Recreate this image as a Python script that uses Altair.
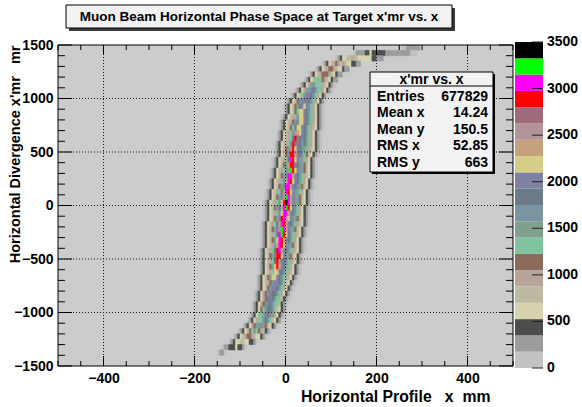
import altair as alt
import pandas as pd

# ---------------- data ----------------
# 2-D histogram: one string per 50 mr row of x'; first char = 5 mm bin starting at ROW_X0
# each char is the colour level of that bin (0..19 -> "0".."9","a".."j")
ROW_Y = [1475, 1425, 1375, 1325, 1275, 1225, 1175, 1125, 1075, 1025, 975, 925, 875, 825,
         775, 725, 675, 625, 575, 525, 475, 425, 375, 325, 275, 225, 175, 125, 75, 25,
         -25, -75, -125, -175, -225, -275, -325, -375, -425, -475, -525, -575, -625, -675,
         -725, -775, -825, -875, -925, -975, -1025, -1075, -1125, -1175, -1225, -1275,
         -1325, -1375]
ROW_X0 = [255, 150, 110, 80, 65, 50, 40, 30, 20, 10, 0, -5, -5, -10,
          -15, -15, -20, -20, -25, -25, -25, -30, -30, -35, -35, -40, -40, -45, -45, -50,
          -50, -50, -50, -55, -55, -55, -55, -55, -60, -60, -60, -60, -60, -65,
          -65, -65, -70, -70, -75, -75, -80, -85, -95, -105, -115, -125,
          -140, -150]
ROW_LEVELS = [
    "00111111",
    "0111122322222211111111111000",
    "012334454433333322111",
    "01234565454332211",
    "012345665433211",
    "012345666543211",
    "012347776543211",
    "0123589777543210",
    "0123589ba97753210",
    "0123479bba9753210",
    "0123469bbba9753210",
    "0123468abcb9753210",
    "0123467ccba9753210",
    "01234579ccba8753210",
    "01234569bccba8753210",
    "0123467accba97543210",
    "01234579edcba9753210",
    "0123457agbaba8753210",
    "01234579gfba9a8753210",
    "0123468egcba987543210",
    "0123469ggdba97643210",
    "0123457ahgcb98753210",
    "0123468dggba98643210",
    "01234579eigcb98643210",
    "0123468bhhdba97543210",
    "01234579dhgcba8753210",
    "0123468bhhdba98643210",
    "0123457adhgcb98753210",
    "0123468beihdb98643210",
    "01234579cgjhdb98643210",
    "0123468adhigca9753210",
    "01234579chhdba8753210",
    "0123468bghecb98643210",
    "0123457adhgdba97543210",
    "0123468beihdb98643210",
    "0123457ahigca97543210",
    "0123468chgdba8753210",
    "0123458dhgcb98643210",
    "0123457aghdba97543210",
    "0123468bggcb98643210",
    "0123457ageba97543210",
    "0123468cgdba8753210",
    "0123457ccba97543210",
    "0123468ccba97543210",
    "01234569bba9743210",
    "0123469bba9753210",
    "0123569baa9753210",
    "012356aba9774210",
    "0123569ba9774210",
    "0123679aa974321",
    "0123778ba9853210",
    "01235779a9743210",
    "0123568998643210",
    "012346787654210",
    "012345665433210",
    "0123344332210",
    "01122232210",
    "0110",
]

LEVEL_CHARS = "0123456789abcdefghij"
BIN_X, BIN_Y = 5, 50
Z_MAX, N_LEVELS = 3500, 20
STEP = Z_MAX / N_LEVELS

PALETTE = ["#c2c2c2", "#9c9c9c", "#4d4d4d", "#d6d2ae", "#bdb9a2", "#b9a49c", "#8d6b5c",
           "#7fc3a1", "#80a08e", "#7a95a1", "#6c7b89", "#7e81a4", "#d6ce86", "#c5a17e",
           "#b49299", "#9f6b7a", "#ff0000", "#ff00ff", "#00ff00", "#000000"]

X_MAJOR = [-400, -200, 0, 200, 400]
X_MINOR = [-500, -450, -350, -300, -250, -150, -100, -50, 50, 100, 150, 250, 300, 350, 450, 500]
X_GRID = [-400, -200, 0, 200, 400]
Y_MAJOR = [-1500, -1000, -500, 0, 500, 1000, 1500]
Y_MINOR = [-1400, -1300, -1200, -1100, -900, -800, -700, -600, -400, -300, -200, -100,
           100, 200, 300, 400, 600, 700, 800, 900, 1100, 1200, 1300, 1400]
Y_GRID = [-1000, -500, 0, 500, 1000]
Z_TICKS = [0, 500, 1000, 1500, 2000, 2500, 3000, 3500]

NB = "\u00a0"
TITLE = "Muon Beam Horizontal Phase Space at Target x'mr vs. x"
X_TITLE = "Horizontal Profile" + NB * 3 + "x" + NB * 2 + "mm"
Y_TITLE = "Horizontal Divergence x'mr" + NB * 3 + "mr"
STAT_NAME = "x'mr vs. x"
STAT_LABELS = ["Entries", "Mean x", "Mean y", "RMS x", "RMS y"]
STAT_VALUES = ["677829", "14.24", "150.5", "52.85", "663"]

# ---------------- tables ----------------
cells = []
for yc, x0, s in zip(ROW_Y, ROW_X0, ROW_LEVELS):
    for i, ch in enumerate(s):
        lv = LEVEL_CHARS.index(ch)
        cells.append({"x": x0 + i * BIN_X, "x2": x0 + (i + 1) * BIN_X,
                      "y": yc - BIN_Y / 2, "y2": yc + BIN_Y / 2,
                      "z": (lv + 0.5) * STEP})
cells = pd.DataFrame(cells)
bar = pd.DataFrame({"lo": [k * STEP for k in range(N_LEVELS)],
                    "hi": [(k + 1) * STEP for k in range(N_LEVELS)],
                    "z": [(k + 0.5) * STEP for k in range(N_LEVELS)]})
one = pd.DataFrame({"a": [0]})

W, H = 455, 321
FONT = "Liberation Sans"
xs = alt.Scale(domain=[-500, 500], nice=False, zero=False)
ys = alt.Scale(domain=[-1500, 1500], nice=False, zero=False)
zs = alt.Scale(domain=[0, Z_MAX], nice=False, zero=False, range=[323, -3])
cs = alt.Scale(type="threshold", domain=[STEP * k for k in range(1, N_LEVELS)], range=PALETTE)

x_axis = alt.Axis(values=X_MAJOR, format="d", ticks=False, domain=False, grid=False,
                  labelFont=FONT, labelFontWeight="bold", labelFontSize=14, labelColor="black",
                  labelPadding=5, title=X_TITLE, titleFont=FONT, titleFontWeight="bold",
                  titleFontSize=15.8, titleColor="black", titleAlign="right",
                  titleBaseline="middle", titleX=432, titleY=30)
y_axis = alt.Axis(values=Y_MAJOR, format="d", ticks=False, domain=False, grid=False,
                  labelFont=FONT, labelFontWeight="bold", labelFontSize=14, labelColor="black",
                  labelPadding=5, title=Y_TITLE, titleFont=FONT, titleFontWeight="bold",
                  titleFontSize=14.5, titleColor="black", titleAngle=270, titleAlign="right",
                  titleBaseline="middle", titleX=-43, titleY=0)

heat = alt.Chart(cells).mark_rect(strokeWidth=0.5).encode(
    x=alt.X("x:Q", scale=xs, axis=x_axis), x2="x2:Q",
    y=alt.Y("y:Q", scale=ys, axis=y_axis), y2="y2:Q",
    color=alt.Color("z:Q", scale=cs, legend=None),
    stroke=alt.Stroke("z:Q", scale=cs, legend=None))

def vrules(vals, y0, y1, **kw):
    return alt.Chart(pd.DataFrame({"v": vals})).mark_rule(**kw).encode(
        x=alt.X("v:Q", scale=xs, axis=x_axis), y=alt.value(y0), y2=alt.value(y1))

def hrules(vals, x0, x1, **kw):
    return alt.Chart(pd.DataFrame({"v": vals})).mark_rule(**kw).encode(
        y=alt.Y("v:Q", scale=ys, axis=y_axis), x=alt.value(x0), x2=alt.value(x1))

grid_kw = dict(color="#1a1a1a", strokeWidth=1, strokeDash=[1, 2])
tick_kw = dict(color="black", strokeWidth=1)
layers = [heat,
          vrules(X_GRID, 0, H, **grid_kw), hrules(Y_GRID, 0, W, **grid_kw),
          vrules(X_MAJOR, H, H - 10, **tick_kw), vrules(X_MINOR, H, H - 5, **tick_kw),
          vrules(X_MAJOR, 0, 10, **tick_kw), vrules(X_MINOR, 0, 5, **tick_kw),
          hrules(Y_MAJOR, 0, 14, **tick_kw), hrules(Y_MINOR, 0, 7, **tick_kw),
          hrules(Y_MAJOR, W, W - 14, **tick_kw), hrules(Y_MINOR, W, W - 7, **tick_kw),
          alt.Chart(one).mark_rect(fillOpacity=0, stroke="black", strokeWidth=1).encode(
              x=alt.value(0), x2=alt.value(W), y=alt.value(0), y2=alt.value(H))]
main = alt.layer(*layers)

# colour bar (palette axis)
cb_rect = alt.Chart(bar).mark_rect().encode(
    y=alt.Y("lo:Q", scale=zs, axis=None), y2="hi:Q",
    x=alt.value(457), x2=alt.value(485),
    color=alt.Color("z:Q", scale=cs, legend=None))
zt = pd.DataFrame({"t": Z_TICKS})
cb_tick = alt.Chart(zt).mark_rule(color="#222222").encode(
    y=alt.Y("t:Q", scale=zs, axis=None), x=alt.value(474), x2=alt.value(485))
cb_lab = alt.Chart(zt).mark_text(align="left", baseline="middle", font=FONT,
                                 fontWeight="bold", fontSize=14, color="black").encode(
    y=alt.Y("t:Q", scale=zs, axis=None), x=alt.value(489), text=alt.Text("t:Q", format="d"))
cbar = alt.layer(cb_rect, cb_tick, cb_lab)

# title box
t_shadow = alt.Chart(one).mark_rect(color="#3a3a3a").encode(
    x=alt.value(11), x2=alt.value(397), y=alt.value(-37), y2=alt.value(-14))
t_box = alt.Chart(one).mark_rect(fill="#f2f2f2", stroke="black", strokeWidth=1).encode(
    x=alt.value(8), x2=alt.value(394), y=alt.value(-40), y2=alt.value(-17))
t_text = alt.Chart(one).mark_text(text=TITLE, font=FONT, fontWeight="bold", fontSize=13.5,
                                  color="black", align="center", baseline="middle").encode(
    x=alt.value(201), y=alt.value(-28.5))

# statistics box
s_shadow = alt.Chart(one).mark_rect(color="black").encode(
    x=alt.value(314), x2=alt.value(437), y=alt.value(29), y2=alt.value(129))
s_box = alt.Chart(one).mark_rect(fill="#f2f2f2", stroke="black", strokeWidth=1).encode(
    x=alt.value(312), x2=alt.value(435), y=alt.value(27), y2=alt.value(127))
s_line = alt.Chart(one).mark_rule(color="black").encode(
    x=alt.value(312), x2=alt.value(435), y=alt.value(41))
s_head = alt.Chart(one).mark_text(text=STAT_NAME, font=FONT, fontWeight="bold", fontSize=14,
                                  color="black", align="center", baseline="middle").encode(
    x=alt.value(373.5), y=alt.value(35))
s_lab = alt.Chart(one).mark_text(text=STAT_LABELS, font=FONT, fontWeight="bold", fontSize=14,
                                 lineHeight=16.4, color="black", align="left",
                                 baseline="top").encode(x=alt.value(319), y=alt.value(45))
s_val = alt.Chart(one).mark_text(text=STAT_VALUES, font=FONT, fontWeight="bold", fontSize=14,
                                 lineHeight=16.4, color="black", align="right",
                                 baseline="top").encode(x=alt.value(430), y=alt.value(45))
deco = alt.layer(t_shadow, t_box, t_text, s_shadow, s_box, s_line, s_head, s_lab, s_val)

chart = alt.layer(main, cbar, deco).resolve_scale(y="independent").properties(
    width=W, height=H,
    padding={"left": 58, "top": 45, "right": 69, "bottom": 41},
    autosize=alt.AutoSizeParams(type="none"),
    background="white",
).configure_view(fill="#cccccc", stroke=None)

chart.save("out.html", embed_options={"renderer": "svg", "actions": False})
